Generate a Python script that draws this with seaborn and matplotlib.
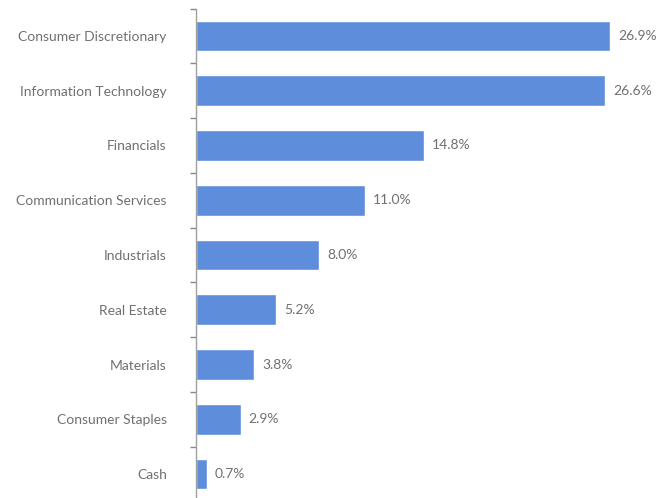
import numpy as np
import pandas as pd
import matplotlib as mpl
import matplotlib.pyplot as plt
import seaborn as sns
from matplotlib.ticker import FixedLocator

sectors = ["Consumer Discretionary", "Information Technology", "Financials",
           "Communication Services", "Industrials", "Real Estate", "Materials",
           "Consumer Staples", "Cash"]
weights = [26.9, 26.6, 14.8, 11.0, 8.0, 5.2, 3.8, 2.9, 0.7]

sns.set_style("white")
mpl.rcParams['font.family'] = ['Lato', 'DejaVu Sans']

df = pd.DataFrame({"sector": sectors, "weight": weights})

fig = plt.figure(figsize=(6.69, 4.98), dpi=100)
ax = fig.add_axes([196 / 669, -3.4 / 498, 473 / 669, 492.8 / 498])
sns.barplot(data=df, y="sector", x="weight", color="#5e8ddb", width=0.56,
            saturation=1, ax=ax)

ax.set_xlim(0, 30.73)
ax.set_ylim(len(sectors) - 0.5, -0.5)
ax.set_xlabel("")
ax.set_ylabel("")
ax.set_xticks([])
for s in ["top", "right", "bottom"]:
    ax.spines[s].set_visible(False)
ax.spines["left"].set_color("#a0a0a0")
ax.spines["left"].set_linewidth(1)

ax.tick_params(axis="y", which="major", length=0, pad=21, labelsize=10,
               labelcolor="#707070")
ax.yaxis.set_minor_locator(FixedLocator(np.arange(-0.5, len(sectors), 1)))
ax.tick_params(axis="y", which="minor", left=True, length=4, color="#888888",
               width=1)

for i, w in enumerate(weights):
    ax.annotate(f"{w:.1f}%", (w, i), xytext=(8, 0), textcoords="offset pixels",
                va="center", ha="left", fontsize=10, color="#707070")

plt.savefig("out.png", dpi=100)
